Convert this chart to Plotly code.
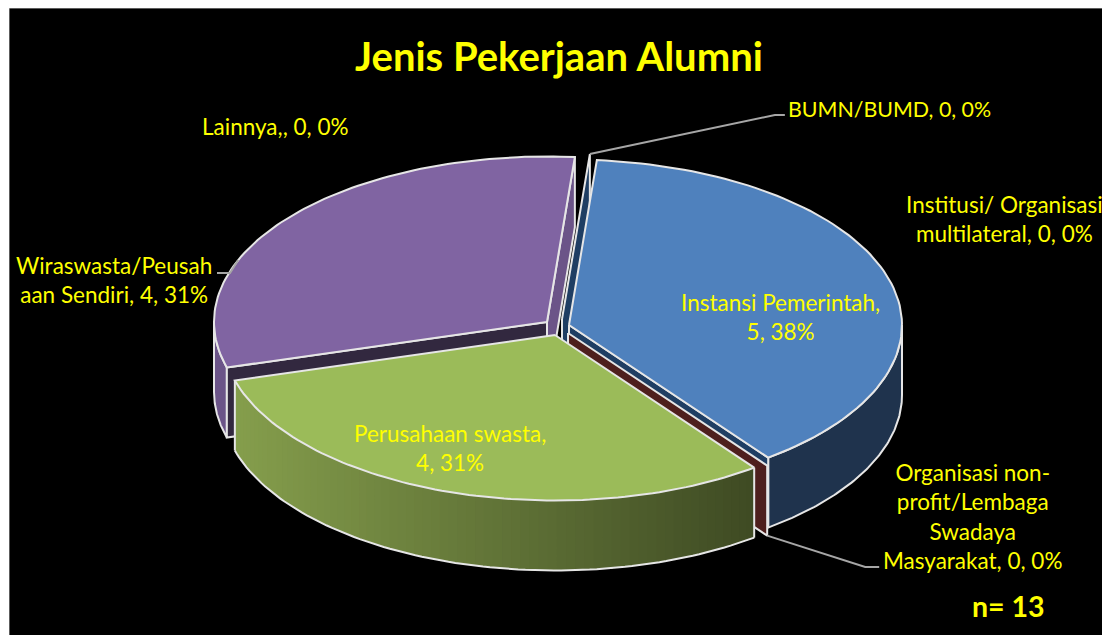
import math
import plotly.graph_objects as go

# ---------- data ----------
title = "Jenis Pekerjaan Alumni"
note = "n= 13"
categories = ["Instansi Pemerintah", "Organisasi non-profit/Lembaga Swadaya Masyarakat",
              "Perusahaan swasta", "Wiraswasta/Peusahaan Sendiri", "Lainnya,",
              "BUMN/BUMD", "Institusi/ Organisasi multilateral"]
values = [5, 0, 4, 4, 0, 0, 0]
wrapped = ["Instansi Pemerintah,<br>", "Organisasi non-<br>profit/Lembaga<br>Swadaya<br>Masyarakat, ",
           "Perusahaan swasta,<br>", "Wiraswasta/Peusah<br>aan Sendiri, ", "Lainnya,, ",
           "BUMN/BUMD, ", "Institusi/ Organisasi<br>multilateral, "]

# ---------- layout and style ----------
W, H = 1102, 635
LEFT, TOP = 9, 8
RX, RY, DEPTH = 333, 165.5, 70
START = 4.8
CENTERS = {0: (569, 325), 1: (568, 333), 2: (555, 335), 3: (547, 322), 5: (562, 319)}
LABEL_POS = [(780, 317), (972, 516), (450, 448), (114, 280), (275, 126), (889, 109), (1004, 219)]
LABEL_SIZE = [22.5, 22.5, 22.5, 22.5, 22.5, 21.4, 22.5]
TOPC = {0: "#4f81bd", 2: "#9bbb59", 3: "#8064a2"}
RIM_BLUE, WALL_BLUE, WALL_RED = "#1f334d", "#1f3e63", "#4e1f1d"
RIM_PURPLE, WALL_PURPLE_A, WALL_PURPLE_B = "#6b5488", "#6b5488", "#32283f"
EDGE, LEADER, YEL = "#e6e6e6", "#a6a6a6", "#ffff00"
GREEN_L, GREEN_R = (133, 158, 76), (62, 74, 35)
FONT = "Lato"

total = sum(values)
cum = [0]
for v in values:
    cum.append(cum[-1] + v)
ang = [START + 360 * c / total for c in cum]


def pt(i, t, dz=0):
    cx, cy = CENTERS[i]
    r = math.radians(t)
    return cx + RX * math.sin(r), cy - RY * math.cos(r) + dz


def arc(i, a, b, dz=0, n=90):
    return [pt(i, a + (b - a) * k / n, dz) for k in range(n + 1)]


fig = go.Figure()


def poly(points, fill, line=EDGE, lw=2):
    pts = list(points) + [points[0]]
    fig.add_trace(go.Scatter(x=[p[0] for p in pts], y=[p[1] for p in pts], mode="lines",
                             fill="toself", fillcolor=fill,
                             line=dict(color=line, width=lw), hoverinfo="skip", showlegend=False))


def path(points, color, lw=2):
    fig.add_trace(go.Scatter(x=[p[0] for p in points], y=[p[1] for p in points], mode="lines",
                             line=dict(color=color, width=lw), hoverinfo="skip", showlegend=False))


def radial_wall(i, t, fill):
    c = CENTERS[i]
    rim = pt(i, t)
    poly([c, rim, (rim[0], rim[1] + DEPTH), (c[0], c[1] + DEPTH)], fill)


def rim_wall(i, a, b, fill):
    poly(arc(i, a, b) + arc(i, a, b, DEPTH)[::-1], fill)


def top_face(i, a, b, fill):
    poly([CENTERS[i]] + arc(i, a, b), fill)


# zero-valued slice behind the blue slice
radial_wall(5, ang[5], WALL_BLUE)
# blue walls
rim_wall(0, 90, ang[1], RIM_BLUE)
radial_wall(0, ang[1], WALL_BLUE)
# zero-valued slice between blue and green
radial_wall(1, ang[1], WALL_RED)
top_face(0, ang[0], ang[1], TOPC[0])
# purple
rim_wall(3, ang[3], 270, RIM_PURPLE)
radial_wall(3, ang[4], WALL_PURPLE_A)
radial_wall(3, ang[3], WALL_PURPLE_B)
top_face(3, ang[3], ang[4], TOPC[3])
# green wall, shaded from left to right; each strip overpaints the rest of the wall
steps = 70
x_l, x_r = pt(2, ang[3])[0], pt(2, ang[2])[0]
for k in range(steps):
    a = ang[3] - (ang[3] - ang[2]) * k / steps
    b = ang[3] - (ang[3] - ang[2]) * (k + 1) / steps
    xm = pt(2, (a + b) / 2)[0]
    f = (xm - x_l) / (x_r - x_l)
    col = "rgb(%d,%d,%d)" % tuple(round(l + (r - l) * f) for l, r in zip(GREEN_L, GREEN_R))
    poly(arc(2, a, ang[2], 0, 60) + arc(2, a, ang[2], DEPTH, 60)[::-1], col, line=col, lw=0)
path(arc(2, ang[2], ang[3], DEPTH), EDGE)
path([pt(2, ang[2]), pt(2, ang[2], DEPTH)], EDGE)
path([pt(2, ang[3]), pt(2, ang[3], DEPTH)], EDGE)
top_face(2, ang[2], ang[3], TOPC[2])

# leader lines
b0 = pt(5, ang[5])
path([b0, (b0[0] + 185, 115), (b0[0] + 195, 115)], LEADER)
r0 = pt(1, ang[1], DEPTH)
path([r0, (r0[0] + 98, 567), (r0[0] + 112, 567)], LEADER)
w0 = pt(3, 292)
path([w0, (230, 273), (217, 273)], LEADER)

anns = []
for i, (name, v) in enumerate(zip(wrapped, values)):
    p = round(100 * v / total)
    x, y = LABEL_POS[i]
    anns.append(dict(x=x, y=y, xref="x", yref="y", text=f"{name}{v}, {p}%", showarrow=False,
                     font=dict(family=FONT, size=LABEL_SIZE[i], color=YEL), align="center",
                     xanchor="center", yanchor="middle"))
anns.append(dict(x=559, y=56, xref="x", yref="y", text=f"<b>{title}</b>", showarrow=False,
                 font=dict(family=FONT, size=40, color=YEL), xanchor="center", yanchor="middle"))
anns.append(dict(x=1008, y=606, xref="x", yref="y", text=f"<b>{note}</b>", showarrow=False,
                 font=dict(family=FONT, size=28.5, color=YEL), xanchor="center", yanchor="middle"))

fig.update_layout(
    width=W, height=H, margin=dict(l=0, r=0, t=0, b=0), autosize=False,
    paper_bgcolor="white", plot_bgcolor="black", showlegend=False, annotations=anns,
    xaxis=dict(domain=[LEFT / W, 1], range=[LEFT, W], visible=False, fixedrange=True),
    yaxis=dict(domain=[0, 1 - TOP / H], range=[H, TOP], visible=False, fixedrange=True),
    shapes=[dict(type="line", xref="x", yref="y", x0=LEFT, x1=W, y0=TOP, y1=TOP,
                 line=dict(color="#b8b8b8", width=1)),
            dict(type="line", xref="x", yref="y", x0=LEFT, x1=LEFT, y0=TOP, y1=H,
                 line=dict(color="#b8b8b8", width=1))],
)
fig.write_html("out.html", config={"displayModeBar": False},
               post_script="document.body.style.margin='0';document.documentElement.style.overflow='hidden';")
